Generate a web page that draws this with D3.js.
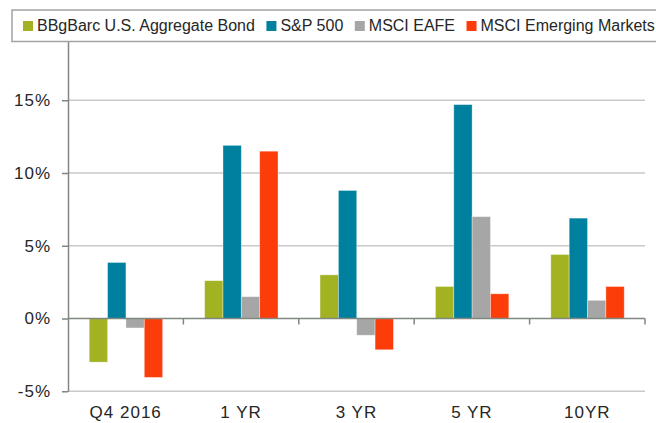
<!DOCTYPE html>
<html>
<head>
<meta charset="utf-8">
<script src="https://cdn.jsdelivr.net/npm/d3@7"></script>
<style>
  html, body { margin: 0; padding: 0; background: #fff; }
  svg { display: block; font-family: "Liberation Sans", Arial, sans-serif; }
</style>
</head>
<body>
<svg id="chart" width="656" height="423"></svg>
<script>
// Periods along the x axis
const periods = ["Q4 2016", "1 YR", "3 YR", "5 YR", "10YR"];
// Index names, in legend / bar order
const seriesNames = ["BBgBarc U.S. Aggregate Bond", "S&P 500", "MSCI EAFE", "MSCI Emerging Markets"];
const seriesColors = ["#a2b222", "#00809f", "#a6a6a6", "#fc3d0a"];
// Returns in percent, one array per index
const aggBond  = [-3.0, 2.6, 3.0, 2.2, 4.4];
const sp500    = [3.85, 11.9, 8.8, 14.7, 6.9];
const eafe     = [-0.65, 1.5, -1.15, 7.0, 1.25];
const emerging = [-4.05, 11.5, -2.15, 1.7, 2.2];
// Y axis ticks (percent)
const yTicks = [-5, 0, 5, 10, 15];

const seriesValues = [aggBond, sp500, eafe, emerging];
const rows = periods.map((p, i) => ({
  period: p,
  values: seriesNames.map((s, k) => ({ series: s, k, value: seriesValues[k][i] }))
}));

const svg = d3.select("#chart");
const left = 68, right = 645;

const y = d3.scaleLinear().domain([-5, 20]).range([391.25, 27.5]);
const x = d3.scaleBand().domain(periods).range([left, right]).paddingInner(0).paddingOuter(0);
const bw = x.bandwidth();
const x1 = d3.scaleBand().domain(seriesNames).range([bw * 0.184, bw * 0.82]).padding(0);

// Horizontal gridlines
svg.append("g")
  .selectAll("line")
  .data(yTicks.filter(t => t !== 0))
  .join("line")
  .attr("x1", left).attr("x2", right)
  .attr("y1", d => y(d)).attr("y2", d => y(d))
  .attr("stroke", "#c9c9c9").attr("stroke-width", 1.5);

// Bars
const groups = svg.append("g")
  .selectAll("g")
  .data(rows)
  .join("g")
  .attr("transform", d => `translate(${x(d.period)},0)`);

groups.selectAll("rect")
  .data(d => d.values)
  .join("rect")
  .attr("x", d => x1(d.series))
  .attr("width", x1.bandwidth())
  .attr("y", d => y(Math.max(0, d.value)))
  .attr("height", d => Math.abs(y(d.value) - y(0)))
  .attr("fill", d => seriesColors[d.k])
  .attr("stroke", "#ffffff").attr("stroke-opacity", 0.45).attr("stroke-width", 0.8);

// Y axis
const yAxis = d3.axisLeft(y)
  .tickValues(yTicks)
  .tickFormat(d => d + "%")
  .tickSize(6)
  .tickSizeOuter(0)
  .tickPadding(11);
const gy = svg.append("g").attr("transform", `translate(${left},0)`).call(yAxis);
gy.select(".domain").attr("stroke", "#7f8780").attr("stroke-width", 1.5);
gy.selectAll(".tick line").attr("stroke", "#7f8780").attr("stroke-width", 1.5);
gy.selectAll(".tick text")
  .attr("font-size", 17).attr("fill", "#262626")
  .attr("letter-spacing", "1px")
  .attr("font-family", "'Liberation Sans', Arial, sans-serif");

// X axis along the zero line, ticks at category boundaries
const xAxisLine = svg.append("g");
xAxisLine.append("line")
  .attr("x1", left).attr("x2", right)
  .attr("y1", y(0)).attr("y2", y(0))
  .attr("stroke", "#7f8780").attr("stroke-width", 1.5);
const boundaries = periods.map(p => x(p) + bw);
xAxisLine.selectAll("line.tk")
  .data(boundaries)
  .join("line")
  .attr("class", "tk")
  .attr("x1", d => d).attr("x2", d => d)
  .attr("y1", y(0)).attr("y2", y(0) + 6)
  .attr("stroke", "#7f8780").attr("stroke-width", 1.5);

// Category labels
svg.append("g")
  .selectAll("text")
  .data(periods)
  .join("text")
  .attr("x", d => x(d) + bw / 2)
  .attr("y", 418)
  .attr("text-anchor", "middle")
  .attr("font-size", 17)
  .attr("letter-spacing", "1px")
  .attr("fill", "#262626")
  .text(d => d);

// Legend box
const legend = svg.append("g");
legend.append("rect")
  .attr("x", 12).attr("y", 10)
  .attr("width", 700).attr("height", 31.5)
  .attr("fill", "#fff")
  .attr("stroke", "#a3a3a3").attr("stroke-width", 1.5);

let lx = 23;
seriesNames.forEach((name, k) => {
  legend.append("rect")
    .attr("x", lx).attr("y", 21)
    .attr("width", 10).attr("height", 10)
    .attr("fill", seriesColors[k]);
  const t = legend.append("text")
    .attr("x", lx + 14).attr("y", 31)
    .attr("font-size", 16)
    .attr("fill", "#262626")
    .text(name);
  lx = lx + 14 + t.node().getComputedTextLength() + 11.5;
});
</script>
</body>
</html>
